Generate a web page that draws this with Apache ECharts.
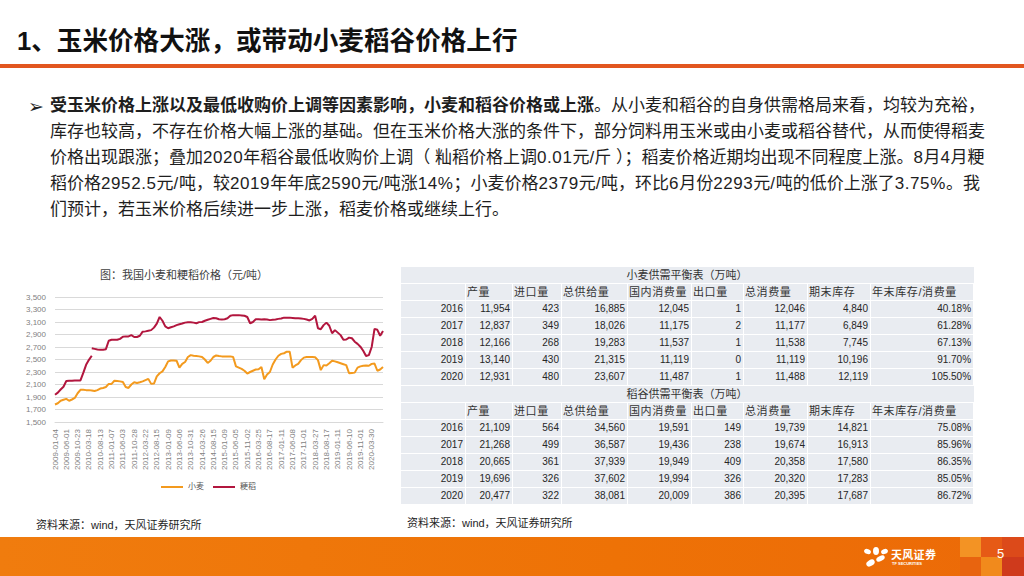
<!DOCTYPE html>
<html>
<head>
<meta charset="utf-8">
<script src="https://cdn.jsdelivr.net/npm/echarts@6.0.0/dist/echarts.min.js"></script>
<style>
  html, body { margin:0; padding:0; background:#fff; }
  body { width:1024px; height:576px; position:relative; overflow:hidden;
         font-family:"Liberation Sans","Noto Sans CJK SC",sans-serif; }
  .abs { position:absolute; }
  #title { left:17px; top:24px; font-size:25.6px; line-height:34px; font-weight:bold; color:#111;
           font-family:"Liberation Sans","Noto Sans CJK SC",sans-serif; white-space:nowrap; }
  #rule { left:0; top:64px; width:1024px; height:4px; background:#e2561f; }
  #bullet { left:28px; top:94px; font-size:19px; line-height:24px; color:#222; font-family:"DejaVu Sans"; }
  #para { left:50px; top:93px; font-size:17px; line-height:26px; color:#1e1e1e; white-space:nowrap; }
  #para b { font-weight:bold; }
  #para .n { letter-spacing:0.6px; }
  #chart { left:0; top:255px; width:400px; height:262px; }
  .src { font-size:11px; line-height:14px; color:#1e1e1e; white-space:nowrap; }
  #tbl { left:400px; top:266px; border-collapse:collapse; table-layout:fixed; width:573px; }
  #tbl td { background:#e9ecf1; border:1px solid #fff; height:16px; line-height:16px; padding:0;
            font-size:10px; color:#262626; white-space:nowrap; overflow:hidden; }
  #tbl td.num { text-align:right; padding-right:2px; }
  #tbl td.hd { text-align:left; padding-left:1px; font-size:11px; letter-spacing:0.6px; color:#333; }
  #tbl td.tt { text-align:center; font-size:11px; color:#333; border-left:none; border-right:none; }
  #footer { left:0; top:537px; width:1024px; height:39px;
            background:linear-gradient(to right,#f07c0e,#ee7206 60%,#ec6a08); }
  #footer .sq { position:absolute; width:21px; height:20px; }
  #logoText { left:891px; top:547px; font-size:11px; line-height:14px; font-weight:bold; color:#fff;
              font-family:"Noto Sans CJK SC",sans-serif; letter-spacing:0.3px; }
  #logoSub { left:892px; top:561px; font-size:4px; line-height:5px; color:#fff; font-weight:bold; }
  #pageNo { left:997px; top:546px; font-size:13px; line-height:16px; color:#fff; }
  .petal { position:absolute; background:#fff; border-radius:50%; }
</style>
</head>
<body>
<div id="title" class="abs">1、玉米价格大涨，或带动小麦稻谷价格上行</div>
<div id="rule" class="abs"></div>
<div id="bullet" class="abs">➢</div>
<div id="para" class="abs"><b>受玉米价格上涨以及最低收购价上调等因素影响，小麦和稻谷价格或上涨</b>。从小麦和稻谷的自身供需格局来看，均较为充裕，<br>库存也较高，不存在价格大幅上涨的基础。但在玉米价格大涨的条件下，部分饲料用玉米或由小麦或稻谷替代，从而使得稻麦<br>价格出现跟涨；叠加<span class="n">2020</span>年稻谷最低收购价上调（ 籼稻价格上调<span class="n">0.01</span>元/斤 ）；稻麦价格近期均出现不同程度上涨。<span class="n">8</span>月<span class="n">4</span>月粳<br>稻价格<span class="n">2952.5</span>元<span class="n">/</span>吨，较<span class="n">2019</span>年年底<span class="n">2590</span>元<span class="n">/</span>吨涨<span class="n">14%</span>；小麦价格<span class="n">2379</span>元<span class="n">/</span>吨，环比<span class="n">6</span>月份<span class="n">2293</span>元<span class="n">/</span>吨的低价上涨了<span class="n">3.75%</span>。我<br>们预计，若玉米价格后续进一步上涨，稻麦价格或继续上行。</div>

<div id="chart" class="abs"></div>
<div class="abs src" style="left:36px;top:518px;">资料来源：wind，天风证券研究所</div>

<table id="tbl" class="abs"></table>
<div class="abs src" style="left:407px;top:516px;">资料来源：wind，天风证券研究所</div>

<div id="footer" class="abs">
  <div class="sq" style="left:960px;top:0;background:#f39324;"></div>
  <div class="sq" style="left:981px;top:0;background:#e65a16;"></div>
  <div class="sq" style="left:1002px;top:0;background:#dc4a1a;width:22px;"></div>
  <div class="sq" style="left:960px;top:20px;background:#e8640f;height:19px;"></div>
  <div class="sq" style="left:981px;top:20px;background:#f18a1c;height:19px;"></div>
  <div class="sq" style="left:1002px;top:20px;background:#cf3a1c;width:22px;height:19px;"></div>
</div>
<div class="abs" style="left:864px;top:547px;width:26px;height:22px;">
  <div class="petal" style="left:0;top:2px;width:7px;height:5px;transform:rotate(20deg);"></div>
  <div class="petal" style="left:9px;top:0;width:6px;height:8px;"></div>
  <div class="petal" style="left:17px;top:2px;width:7px;height:5px;transform:rotate(-20deg);"></div>
  <div class="petal" style="left:12px;top:9px;width:9px;height:5px;transform:rotate(-25deg);"></div>
  <div class="petal" style="left:2px;top:13px;width:9px;height:6px;transform:rotate(-30deg);"></div>
</div>
<div id="logoText" class="abs">天风证券</div>
<div id="logoSub" class="abs">TF SECURITIES</div>
<div id="pageNo" class="abs">5</div>

<script>
// ---------- chart data ----------
const tickLabels = ['2009-01-04','2009-06-01','2009-10-23','2010-03-18','2010-08-13','2011-01-07','2011-06-03','2011-10-28','2012-03-22','2012-08-15','2013-01-09','2013-06-06','2013-10-31','2014-03-26','2014-08-15','2015-01-09','2015-06-05','2015-11-02','2016-03-25','2016-08-17','2017-01-11','2017-06-08','2017-11-01','2018-03-27','2018-08-17','2019-01-11','2019-06-10','2019-11-01','2020-03-30'];

const dates = [
 '2009-01-04','2009-02-13','2009-03-20','2009-04-27',
 '2009-06-01','2009-07-06','2009-08-11','2009-09-16',
 '2009-10-23','2009-12-01','2010-01-08','2010-02-10',
 '2010-03-18','2010-04-23','2010-06-01','2010-07-07',
 '2010-08-13','2010-09-17','2010-10-29','2010-12-03',
 '2011-01-07','2011-02-21','2011-03-28','2011-04-29',
 '2011-06-03','2011-07-08','2011-08-12','2011-09-20',
 '2011-10-28','2011-12-02','2012-01-06','2012-02-16',
 '2012-03-22','2012-04-27','2012-06-04','2012-07-10',
 '2012-08-15','2012-09-20','2012-10-31','2012-12-05',
 '2013-01-09','2013-02-22','2013-03-29','2013-05-03',
 '2013-06-06','2013-07-12','2013-08-16','2013-09-23',
 '2013-10-31','2013-12-05','2014-01-09','2014-02-20',
 '2014-03-26','2014-04-30','2014-06-05','2014-07-10',
 '2014-08-15','2014-09-22','2014-10-30','2014-12-04',
 '2015-01-09','2015-02-16','2015-03-27','2015-05-04',
 '2015-06-05','2015-07-13','2015-08-17','2015-09-24',
 '2015-11-02','2015-12-07','2016-01-14','2016-02-23',
 '2016-03-25','2016-05-03','2016-06-08','2016-07-13',
 '2016-08-17','2016-09-22','2016-11-01','2016-12-06',
 '2017-01-11','2017-02-22','2017-03-30','2017-05-04',
 '2017-06-08','2017-07-13','2017-08-17','2017-09-22',
 '2017-11-01','2017-12-06','2018-01-11','2018-02-22',
 '2018-03-27','2018-05-03','2018-06-08','2018-07-13',
 '2018-08-17','2018-09-25','2018-10-31','2018-12-06',
 '2019-01-11','2019-02-22','2019-03-29','2019-05-06',
 '2019-06-10','2019-07-15','2019-08-19','2019-09-24',
 '2019-11-01','2019-12-06','2020-01-13','2020-02-24',
 '2020-03-30','2020-05-06','2020-06-10','2020-07-10',
 '2020-08-04'
];

// 小麦 (wheat), one value per date
const wheat = [
 1780,1800,1840,1855,1870,1840,1860,1885,1960,2015,
 2015,2010,2010,2005,1995,2010,2035,2045,2060,2110,
 2110,2160,2155,2150,2140,2060,2045,2100,2135,2125,
 2135,2150,2170,2190,2110,2115,2230,2280,2310,2380,
 2470,2485,2485,2480,2370,2430,2460,2540,2570,2560,
 2555,2550,2540,2500,2445,2480,2540,2565,2555,2550,
 2550,2550,2550,2540,2390,2370,2350,2320,2275,2300,
 2320,2340,2345,2380,2185,2260,2300,2420,2500,2560,
 2590,2600,2625,2625,2370,2405,2430,2490,2530,2540,
 2540,2540,2535,2490,2330,2410,2405,2440,2480,2470,
 2455,2440,2425,2410,2280,2285,2290,2370,2390,2400,
 2405,2400,2430,2435,2320,2340,2380
];

// 粳稻 (japonica rice): early segment (dates[0..13]) and later segment (dates[13..116]), broken line between
const japonicaEarly = [1935,1970,2020,2065,2155,2160,2160,2165,2165,2165,2285,2415,2495,2560];
const japonicaLate = [
 2680,2670,2660,2655,2655,2665,2800,
 2815,2815,2815,2830,2865,2870,2870,2890,2860,2860,
 2880,2945,2950,2960,2970,3010,3075,3180,3120,3030,
 3000,3015,3030,3050,3065,3075,3090,3095,3095,3090,
 3080,3098,3100,3120,3135,3150,3165,3160,3145,3140,
 3145,3160,3200,3210,3210,3210,3205,3200,3180,3080,
 3100,3145,3145,3140,3145,3140,3130,3135,3140,3150,
 3155,3170,3170,3170,3165,3160,3160,3155,3150,3140,
 3125,3150,3200,3000,2985,3050,3090,3040,2920,2970,
 2930,2890,2815,2820,2850,2840,2785,2750,2705,2640,
 2555,2570,2700,2990,2975,2880,2955
];
const yTicks = { min: 1500, max: 3500, interval: 200 };

// ---------- table data ----------
const tableColumns = ['产量','进口量','总供给量','国内消费量','出口量','总消费量','期末库存','年末库存/消费量'];
const tableYears = ['2016','2017','2018','2019','2020'];
const wheatBalance = [
 [11954,423,16885,12045,1,12046,4840,40.18],
 [12837,349,18026,11175,2,11177,6849,61.28],
 [12166,268,19283,11537,1,11538,7745,67.13],
 [13140,430,21315,11119,0,11119,10196,91.70],
 [12931,480,23607,11487,1,11488,12119,105.50]
];
const riceBalance = [
 [21109,564,34560,19591,149,19739,14821,75.08],
 [21268,499,36587,19436,238,19674,16913,85.96],
 [20665,361,37939,19949,409,20358,17580,86.35],
 [19696,326,37602,19994,326,20320,17283,85.05],
 [20477,322,38081,20009,386,20395,17687,86.72]
];

// ---------- build table ----------
(function(){
  const widths = [65,47,49,66,64,52,64,63,103];
  const t = document.getElementById('tbl');
  let h = '<colgroup>' + widths.map(w => '<col style="width:' + w + 'px">').join('') + '</colgroup>';
  function block(title, rows){
    let s = '<tr><td class="tt" colspan="9">' + title + '</td></tr>';
    s += '<tr><td></td>' + tableColumns.map(c => '<td class="hd">' + c + '</td>').join('') + '</tr>';
    rows.forEach((r, i) => {
      s += '<tr><td class="num">' + tableYears[i] + '</td>' +
        r.map((v, j) => '<td class="num">' + (j === 7 ? v.toFixed(2) + '%' : v.toLocaleString('en-US')) + '</td>').join('') + '</tr>';
    });
    return s;
  }
  h += block('小麦供需平衡表（万吨）', wheatBalance) + block('稻谷供需平衡表（万吨）', riceBalance);
  t.innerHTML = h;
})();

// ---------- chart ----------
const chart = echarts.init(document.getElementById('chart'), null, { renderer: 'svg' });
const n = dates.length;
const earlyData = dates.map((d, i) => i < japonicaEarly.length ? japonicaEarly[i] : null);
const lateStart = n - japonicaLate.length;
const lateData = dates.map((d, i) => i >= lateStart ? japonicaLate[i - lateStart] : null);
const wheatColor = '#f39a1e', riceColor = '#b2163e';
const ff = '"Liberation Sans","Noto Sans CJK SC",sans-serif';

chart.setOption({
  animation: false,
  backgroundColor: 'transparent',
  title: {
    text: '图：我国小麦和粳稻价格（元/吨）',
    left: 100, top: 14, padding: 0,
    textStyle: { fontSize: 11, fontWeight: 'normal', color: '#404040', fontFamily: ff }
  },
  legend: {
    data: ['小麦', '粳稻'],
    left: 161, top: 228, padding: 0,
    icon: 'rect', itemWidth: 22, itemHeight: 2, itemGap: 9,
    textStyle: { fontSize: 8, color: '#595959', fontFamily: ff }
  },
  grid: { left: 55, right: 17, top: 42, bottom: 95, containLabel: false },
  xAxis: {
    type: 'category',
    data: dates,
    boundaryGap: false,
    axisLine: { lineStyle: { color: '#d9d9d9' } },
    axisTick: { show: false },
    axisLabel: {
      interval: (idx, val) => tickLabels.indexOf(val) >= 0,
      rotate: 90, fontSize: 8, color: '#7f7f7f', margin: 7, fontFamily: ff
    },
    splitLine: { show: false }
  },
  yAxis: {
    type: 'value',
    min: yTicks.min, max: yTicks.max, interval: yTicks.interval,
    axisLine: { show: false },
    axisTick: { show: false },
    axisLabel: {
      fontSize: 8, color: '#7f7f7f', margin: 9, fontFamily: ff,
      formatter: v => v.toLocaleString('en-US')
    },
    splitLine: { lineStyle: { color: '#d9d9d9', width: 1 } }
  },
  series: [
    { name: '小麦', type: 'line', data: wheat, symbol: 'none', showSymbol: false,
      lineStyle: { color: wheatColor, width: 2 }, itemStyle: { color: wheatColor } },
    { name: '粳稻', type: 'line', data: earlyData, symbol: 'none', showSymbol: false,
      lineStyle: { color: riceColor, width: 2 }, itemStyle: { color: riceColor } },
    { name: '粳稻', type: 'line', data: lateData, symbol: 'none', showSymbol: false,
      lineStyle: { color: riceColor, width: 2 }, itemStyle: { color: riceColor } }
  ]
});
</script>
</body>
</html>
